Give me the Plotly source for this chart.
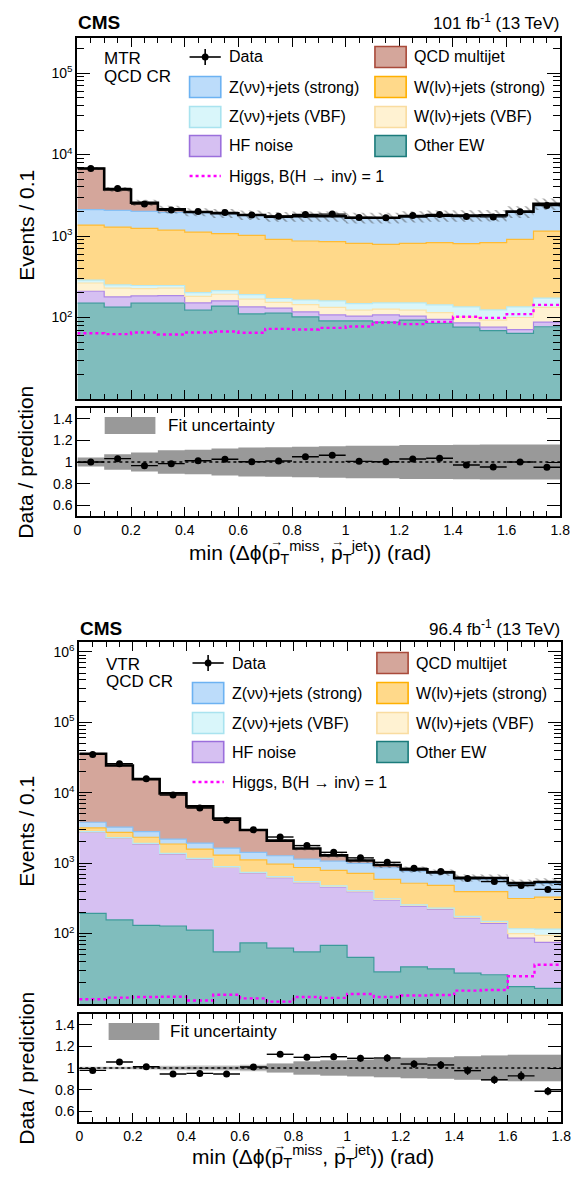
import numpy as np
import plotly.graph_objects as go

# ---------------- data ----------------
bin_edges = np.round(np.arange(19) * 0.1, 2)

# MTR QCD CR
mtr_other_ew = [150, 134, 150, 150, 123, 138, 111, 113, 102, 91, 91, 88, 93, 85, 76, 69, 64, 77]
mtr_hf_noise = [60, 45, 34, 36, 28, 22, 24, 17, 15, 17, 13, 20, 11, 10, 10, 7, 7, 11]
mtr_w_vbf = [55, 50, 42, 43, 31, 33, 33, 23, 27, 25, 19, 19, 19, 20, 16, 17, 29, 45]
mtr_z_vbf = [22, 22, 21, 18, 20, 21, 23, 18, 20, 27, 25, 24, 28, 28, 33, 31, 35, 40]
mtr_w_strong = [1077, 1037, 994, 937, 917, 855, 828, 739, 705, 693, 665, 640, 662, 685, 670, 704, 775, 978]
mtr_z_strong = [739, 772, 760, 766, 821, 806, 771, 802, 866, 882, 850, 872, 915, 942, 965, 962, 1070, 1327]
mtr_qcd = [4637, 1667, 559, 171, 30, 25, 20, 18, 15, 15, 12, 12, 12, 10, 10, 10, 10, 12]
mtr_higgs = [64, 62.5, 65.5, 62, 65.5, 67.4, 65, 72.6, 71.3, 74.6, 77.6, 87, 83, 88.5, 102, 99, 110, 143]
mtr_data = [6740, 3843, 2473, 2089, 1994, 1948, 1815, 1746, 1836, 1859, 1685, 1680, 1789, 1841, 1730, 1717, 1990, 2368]
mtr_unc = [0.042, 0.072, 0.088, 0.108, 0.114, 0.126, 0.134, 0.137, 0.142, 0.145, 0.151, 0.151, 0.157, 0.157, 0.16, 0.161, 0.162, 0.162]

# VTR QCD CR
vtr_other_ew = [193, 157, 131, 128, 112, 55, 74, 62, 55, 68, 46, 28.5, 33.6, 31.5, 27.4, 26, 17.7, 16.7]
vtr_hf_noise = [2547, 2093, 1735, 1216, 1028, 812, 645, 562, 474, 392, 348, 271.5, 212.4, 188.5, 139.6, 113, 68.3, 58.3]
vtr_w_vbf = [30, 25, 22, 18, 16, 13, 11, 10, 9, 8, 7, 6, 5, 5, 4, 5, 14, 19]
vtr_z_vbf = [25, 22, 19, 16, 14, 12, 11, 10, 9, 8, 7, 6, 5, 5, 4, 5, 17, 22]
vtr_w_strong = [365, 443, 423, 492, 415, 408, 375, 324, 320, 314, 307, 278, 262, 255, 219, 245, 198, 214]
vtr_z_strong = [650, 500, 475, 330, 345, 337, 304, 305, 273, 275, 275, 270, 252, 240, 203, 197, 186, 185]
vtr_qcd = [31990, 21160, 12795, 7600, 4470, 2663, 1530, 812, 475, 225, 100, 80, 45, 13, 21, 24, 19, 25]
vtr_higgs = [11.7, 12.3, 12.6, 12.7, 11.2, 13.5, 12, 10.8, 12.6, 12.2, 13.9, 12.6, 13.2, 13.4, 15.5, 15.8, 24.8, 36]
vtr_data = [35012, 25766, 15787, 9251, 6080, 4059, 2977, 2350, 1775, 1425, 1188, 1027, 845, 759, 603, 548, 482, 424]
vtr_unc = [0.012, 0.012, 0.014, 0.02, 0.022, 0.024, 0.03, 0.046, 0.064, 0.073, 0.08, 0.089, 0.097, 0.102, 0.112, 0.118, 0.126, 0.126]
vtr_unc_inner = [0.004, 0.004, 0.005, 0.008, 0.01, 0.012, 0.018, 0.038, 0.058, 0.068, 0.075, 0.084, 0.092, 0.097, 0.106, 0.113, 0.121, 0.121]

x_tick_labels = ["0", "0.2", "0.4", "0.6", "0.8", "1", "1.2", "1.4", "1.6", "1.8"]
ratio_tick_labels = ["0.6", "0.8", "1", "1.2", "1.4"]

# ---------------- style ----------------
PAGE_MARGIN = 8                      # default <body> margin of the page
W, H = 583 - PAGE_MARGIN, 1178 - 2 * PAGE_MARGIN
FONT = "Liberation Sans, Arial, Helvetica, sans-serif"

proc_names = ["Other EW", "HF noise", "W(l\u03bd)+jets (VBF)", "Z(\u03bd\u03bd)+jets (VBF)",
              "W(l\u03bd)+jets (strong)", "Z(\u03bd\u03bd)+jets (strong)", "QCD multijet"]
fills = ["#80bdbd", "#d6c0f2", "#fff2d2", "#d9f6fa", "#ffd98a", "#bcdcfa", "#d4a69b"]
lines = ["#3c9a9a", "#ad86e6", "#fbe2a8", "#b6e9f3", "#ffbb33", "#86c0f5", "#b36a5c"]
legend_borders = ["#1b7b7b", "#9b6fdc", "#f9dca0", "#a9e3ef", "#ffb000", "#6cb2f2", "#a94a3a"]


def px_x(p):
    return (p - PAGE_MARGIN) / W


def px_y(p):
    return 1 - (p - PAGE_MARGIN) / H


def step(v):
    v = np.asarray(v, dtype=float)
    return np.append(v, v[-1])


fig = go.Figure()


def add_main(layers, higgs, data, unc, xa, ya):
    cum = np.cumsum(np.vstack([np.asarray(l, float) for l in layers]), axis=0)
    total = cum[-1]
    fig.add_trace(go.Scatter(x=bin_edges, y=step(np.full(18, 0.1)), mode="lines",
                             line=dict(width=0, shape="hv"), xaxis=xa, yaxis=ya, hoverinfo="skip"))
    for i in range(len(layers)):
        fig.add_trace(go.Scatter(x=bin_edges, y=step(cum[i]), mode="lines", fill="tonexty",
                                 fillcolor=fills[i], line=dict(color=lines[i], width=1.2, shape="hv"),
                                 xaxis=xa, yaxis=ya, name=proc_names[i]))
    unc = np.asarray(unc)
    fig.add_trace(go.Scatter(x=bin_edges, y=step(total * (1 - unc)), mode="lines",
                             line=dict(width=0, shape="hv"), xaxis=xa, yaxis=ya, hoverinfo="skip"))
    fig.add_trace(go.Scatter(x=bin_edges, y=step(total * (1 + unc)), mode="lines", fill="tonexty",
                             fillcolor="rgba(0,0,0,0)",
                             fillpattern=dict(shape="\\", fgcolor="#444444", bgcolor="rgba(0,0,0,0)",
                                              size=6, solidity=0.25),
                             line=dict(width=0, shape="hv"), xaxis=xa, yaxis=ya, hoverinfo="skip"))
    fig.add_trace(go.Scatter(x=bin_edges, y=step(total), mode="lines",
                             line=dict(color="black", width=2.6, shape="hv"), xaxis=xa, yaxis=ya))
    fig.add_trace(go.Scatter(x=bin_edges, y=step(higgs), mode="lines",
                             line=dict(color="#ff00ff", width=2.4, shape="hv", dash="dot"),
                             xaxis=xa, yaxis=ya))
    d = np.asarray(data, float)
    fig.add_trace(go.Scatter(x=bin_edges[:-1] + 0.05, y=d, mode="markers",
                             marker=dict(color="black", size=7),
                             error_x=dict(type="constant", value=0.05, color="black", thickness=1.4, width=0),
                             error_y=dict(type="data", array=np.sqrt(d), color="black", thickness=1.4, width=0),
                             xaxis=xa, yaxis=ya))
    return total


def add_ratio(total, data, unc, xa, ya, unc_inner=None):
    d = np.asarray(data, float)
    unc = np.asarray(unc)
    fig.add_trace(go.Scatter(x=bin_edges, y=step(1 - unc), mode="lines",
                             line=dict(width=0, shape="hv"), xaxis=xa, yaxis=ya, hoverinfo="skip"))
    fig.add_trace(go.Scatter(x=bin_edges, y=step(1 + unc), mode="lines", fill="tonexty",
                             fillcolor="#c4c4c4" if unc_inner is not None else "#999999",
                             line=dict(width=0, shape="hv"), xaxis=xa, yaxis=ya, hoverinfo="skip"))
    if unc_inner is not None:
        ui = np.asarray(unc_inner)
        fig.add_trace(go.Scatter(x=bin_edges, y=step(1 - ui), mode="lines",
                                 line=dict(width=0, shape="hv"), xaxis=xa, yaxis=ya, hoverinfo="skip"))
        fig.add_trace(go.Scatter(x=bin_edges, y=step(1 + ui), mode="lines", fill="tonexty",
                                 fillcolor="#999999",
                                 line=dict(width=0, shape="hv"), xaxis=xa, yaxis=ya, hoverinfo="skip"))
    fig.add_trace(go.Scatter(x=[bin_edges[0], bin_edges[-1]], y=[1, 1], mode="lines",
                             line=dict(color="black", width=1.5, dash="dot"), xaxis=xa, yaxis=ya))
    r = d / total
    fig.add_trace(go.Scatter(x=bin_edges[:-1] + 0.05, y=r, mode="markers",
                             marker=dict(color="black", size=7),
                             error_x=dict(type="constant", value=0.05, color="black", thickness=1.4, width=0),
                             error_y=dict(type="data", array=np.sqrt(d) / total, color="black",
                                          thickness=1.4, width=0),
                             xaxis=xa, yaxis=ya))


mtr_layers = [mtr_other_ew, mtr_hf_noise, mtr_w_vbf, mtr_z_vbf, mtr_w_strong, mtr_z_strong, mtr_qcd]
vtr_layers = [vtr_other_ew, vtr_hf_noise, vtr_w_vbf, vtr_z_vbf, vtr_w_strong, vtr_z_strong, vtr_qcd]

tot_m = add_main(mtr_layers, mtr_higgs, mtr_data, mtr_unc, "x", "y")
add_ratio(tot_m, mtr_data, mtr_unc, "x2", "y2")
tot_v = add_main(vtr_layers, vtr_higgs, vtr_data, vtr_unc, "x3", "y3")
add_ratio(tot_v, vtr_data, vtr_unc, "x4", "y4", unc_inner=vtr_unc_inner)

# ---------------- axes ----------------
panels = {
    "top_main": (75, 570, 38, 399),
    "top_ratio": (75, 570, 408, 516),
    "bot_main": (77, 571, 642, 1004),
    "bot_ratio": (77, 571, 1014, 1122),
}

tick_font = dict(family=FONT, size=14, color="black")
x_tickvals = [round(0.2 * i, 1) for i in range(10)]


def xaxis_cfg(dom, anchor, labels):
    return dict(domain=[px_x(dom[0]), px_x(dom[1])], anchor=anchor, range=[0, 1.8],
                tickvals=x_tickvals, ticktext=x_tick_labels, showticklabels=labels,
                ticklabeloverflow="allow",
                ticks="inside", ticklen=9, tickwidth=1.2, tickcolor="black",
                minor=dict(ticks="inside", dtick=0.05, ticklen=5, tickwidth=1, tickcolor="black"),
                showline=True, linecolor="black", linewidth=2, mirror="allticks",
                showgrid=False, zeroline=False, tickfont=tick_font, fixedrange=True)


def log_yaxis_cfg(dom, anchor, rng, decades):
    tv = [10 ** d for d in decades]
    tt = ["10<sup>%d</sup>" % d for d in decades]
    minor_vals = [k * 10 ** d for d in range(0, 7) for k in range(2, 10)]
    return dict(domain=[px_y(dom[3]), px_y(dom[2])], anchor=anchor, type="log", range=rng,
                tickvals=tv, ticktext=tt, ticks="inside", ticklen=13, tickwidth=1.2, tickcolor="black",
                minor=dict(ticks="inside", tickvals=minor_vals, ticklen=7, tickwidth=1, tickcolor="black"),
                showline=True, linecolor="black", linewidth=2, mirror="allticks",
                showgrid=False, zeroline=False, tickfont=tick_font, fixedrange=True)


def ratio_yaxis_cfg(dom, anchor):
    return dict(domain=[px_y(dom[3]), px_y(dom[2])], anchor=anchor, range=[0.5, 1.5],
                tickvals=[0.6, 0.8, 1.0, 1.2, 1.4], ticktext=ratio_tick_labels,
                ticks="inside", ticklen=13, tickwidth=1.2, tickcolor="black",
                showline=True, linecolor="black", linewidth=2, mirror="allticks",
                showgrid=False, zeroline=False, tickfont=tick_font, fixedrange=True)


p = panels
fig.update_layout(
    width=W, height=H, autosize=False,
    margin=dict(l=0, r=0, t=0, b=0, pad=0),
    paper_bgcolor="white", plot_bgcolor="white",
    showlegend=False,
    font=dict(family=FONT, color="black", size=14),
    xaxis=xaxis_cfg(p["top_main"], "y", False),
    yaxis=log_yaxis_cfg(p["top_main"], "x", [1, 5.43], [2, 3, 4, 5]),
    xaxis2=xaxis_cfg(p["top_ratio"], "y2", True),
    yaxis2=ratio_yaxis_cfg(p["top_ratio"], "x2"),
    xaxis3=xaxis_cfg(p["bot_main"], "y3", False),
    yaxis3=log_yaxis_cfg(p["bot_main"], "x3", [1, 6.14], [2, 3, 4, 5, 6]),
    xaxis4=xaxis_cfg(p["bot_ratio"], "y4", True),
    yaxis4=ratio_yaxis_cfg(p["bot_ratio"], "x4"),
)

# ---------------- texts & legends ----------------
ann = []
shapes = []


def text(x, y, s, size, xanchor="left", angle=0):
    ann.append(dict(x=px_x(x), y=px_y(y), xref="paper", yref="paper", text=s,
                    showarrow=False, xanchor=xanchor, yanchor="middle", textangle=angle,
                    font=dict(family=FONT, size=size, color="black")))


def pshape(**kw):
    d = dict(xref="paper", yref="paper")
    for k, v in kw.items():
        if k in ("x0", "x1"):
            v = px_x(v)
        elif k in ("y0", "y1"):
            v = px_y(v)
        d[k] = v
    shapes.append(d)


xtitle = ("min (\u0394\u03d5(p<sub>T</sub><sup>miss</sup>, p<sub>T</sub><sup>jet</sup>)) (rad)")

for lumi, region, off, xl, ty in [("101 fb<sup>-1</sup> (13 TeV)", "MTR", 0, 75, 552),
                                  ("96.4 fb<sup>-1</sup> (13 TeV)", "VTR", 606, 77, 1156)]:
    text(xl - 1, 22 + off, "<b>CMS</b>", 19)
    text(572, 22 + off, lumi, 17, xanchor="right")
    text(xl + 25, 58 + off, region, 17)
    text(xl + 25, 76 + off, "QCD CR", 17)
    text(22, 225 + off, "Events / 0.1", 21, xanchor="center", angle=-90)
    text(22, 462 + off, "Data / prediction", 21, xanchor="center", angle=-90)
    tcx = 313 + off / 200
    text(tcx, ty, xtitle, 21, xanchor="center")
    for dx in (-34.5, 28.1):
        text(tcx + dx + 1, ty - 11, "\u2192", 13, xanchor="center")

    # legend
    lx0 = 190 + (3 if off else 0)
    rx0 = 380 + (2 if off else 0)
    bw, bh = 32, 21
    rows = [57, 87, 117, 146, 176]
    yy = rows[0] + off
    pshape(type="line", x0=lx0, x1=lx0 + bw, y0=yy, y1=yy, line=dict(color="black", width=1.6))
    pshape(type="line", x0=lx0 + bw / 2, x1=lx0 + bw / 2, y0=yy - 8, y1=yy + 8,
           line=dict(color="black", width=1.6))
    pshape(type="circle", x0=lx0 + bw / 2 - 3.5, x1=lx0 + bw / 2 + 3.5, y0=yy - 3.5, y1=yy + 3.5,
           fillcolor="black", line=dict(color="black", width=0))
    text(lx0 + bw + 6, yy, "Data", 16)
    entries = [(rx0, rows[0], 6), (lx0, rows[1], 5), (rx0, rows[1], 4), (lx0, rows[2], 3),
               (rx0, rows[2], 2), (lx0, rows[3], 1), (rx0, rows[3], 0)]
    for ex, ey, idx in entries:
        ey = ey + off
        pshape(type="rect", x0=ex, x1=ex + bw, y0=ey - bh / 2, y1=ey + bh / 2, fillcolor=fills[idx],
               line=dict(color=legend_borders[idx], width=1.6))
        text(ex + bw + 6, ey, proc_names[idx], 16)
    yy = rows[4] + off
    pshape(type="line", x0=lx0, x1=lx0 + bw, y0=yy, y1=yy, line=dict(color="#ff00ff", width=2.4, dash="dot"))
    text(lx0 + bw + 6, yy, "Higgs, B(H \u2192 inv) = 1", 16)

    # ratio legend
    pshape(type="rect", x0=103 + off / 150, x1=155 + off / 150, y0=417 + off, y1=434 + off,
           fillcolor="#999999", line=dict(width=0))
    text(166 + off / 300, 425.5 + off, "Fit uncertainty", 17)

fig.update_layout(annotations=ann, shapes=shapes)

fig.write_html("out.html")
